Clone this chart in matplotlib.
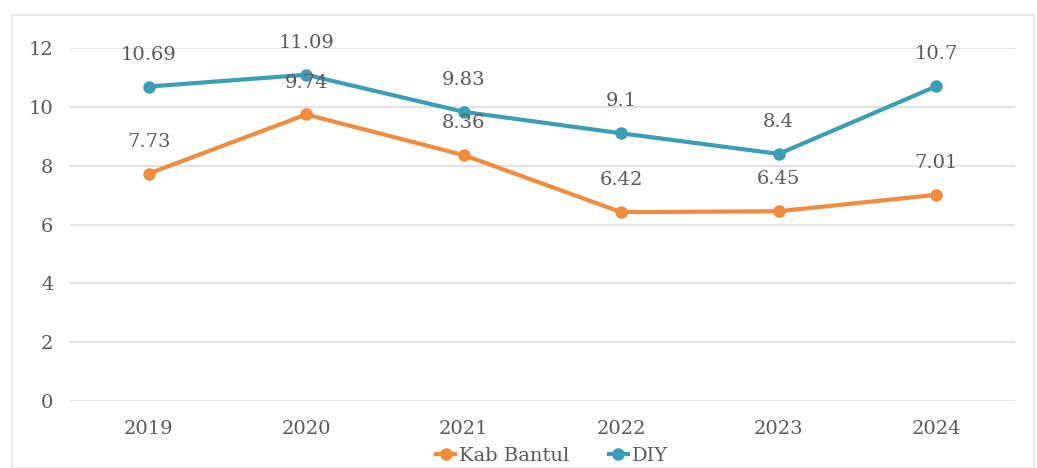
import matplotlib
matplotlib.use("Agg")
import matplotlib.pyplot as plt
from matplotlib.patches import Rectangle

years = ["2019", "2020", "2021", "2022", "2023", "2024"]
kab_bantul = [7.73, 9.74, 8.36, 6.42, 6.45, 7.01]
diy = [10.69, 11.09, 9.83, 9.1, 8.4, 10.7]
yticks = [0, 2, 4, 6, 8, 10, 12]

c_orange = "#F28B3C"
c_blue = "#3A9FB6"
c_text = "#595959"
c_grid = "#E3E3E3"

plt.rcParams['font.family'] = ['DejaVu Serif']

fig = plt.figure(figsize=(10.37, 4.68), dpi=100)
fig.patches.append(Rectangle((12/1037, 0.0), 1022/1037, 1 - 15/468, transform=fig.transFigure,
                             fill=False, edgecolor="#E6E6E6", linewidth=1.2))
ax = fig.add_axes([70/1037, 67/468, 945/1037, 353/468])

x = list(range(len(years)))
ax.plot(x, kab_bantul, color=c_orange, lw=3, marker="o", ms=8, label="Kab Bantul", zorder=3)
ax.plot(x, diy, color=c_blue, lw=3, marker="o", ms=8, label="DIY", zorder=3)

for xi, v in zip(x, kab_bantul):
    ax.annotate(f"{v:g}", (xi, v), xytext=(0, 23), textcoords="offset points",
                ha="center", va="center", fontsize=14, color=c_text)
for xi, v in zip(x, diy):
    ax.annotate(f"{v:g}", (xi, v), xytext=(0, 23), textcoords="offset points",
                ha="center", va="center", fontsize=14, color=c_text)

ax.set_xlim(-0.5, len(years) - 0.5)
ax.set_ylim(0, 12)
ax.set_yticks(yticks)
ax.set_xticks(x)
ax.set_xticklabels(years)
ax.grid(axis="y", color=c_grid, lw=1.5)
ax.set_axisbelow(True)
for s in ax.spines.values():
    s.set_visible(False)
ax.tick_params(length=0, labelsize=14, labelcolor=c_text)
ax.tick_params(axis="y", pad=12)
ax.tick_params(axis="x", pad=14)

leg = fig.legend(loc="center", bbox_to_anchor=(552/1037, 1 - 456/468), ncol=2, frameon=False,
                 fontsize=14, labelcolor=c_text, handlelength=1.0, columnspacing=2.0,
                 handletextpad=0.2)

fig.savefig("out.png", dpi=100)
